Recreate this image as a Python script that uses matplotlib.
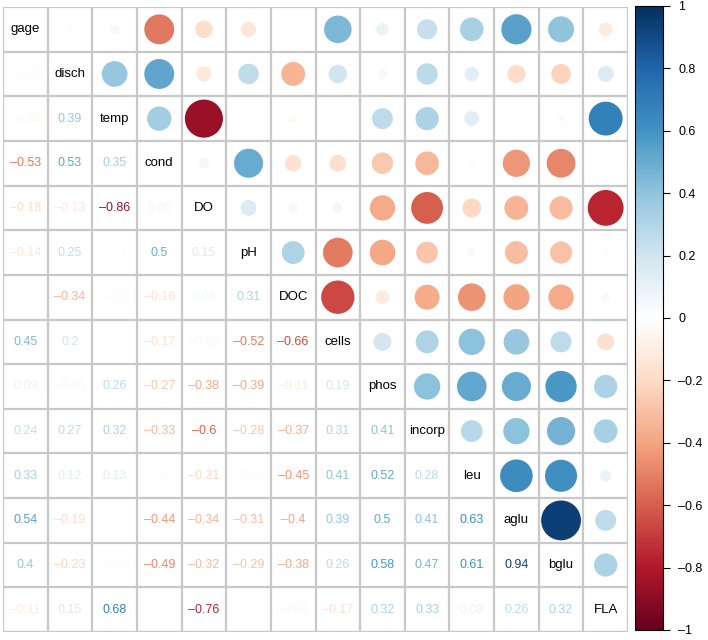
import numpy as np
import matplotlib
matplotlib.use("Agg")
import matplotlib.pyplot as plt
from matplotlib.colors import LinearSegmentedColormap, Normalize
from matplotlib.patches import Circle
from matplotlib.colorbar import ColorbarBase

plt.rcParams['font.family'] = ['Liberation Sans', 'DejaVu Sans']

# variable names (diagonal labels)
names = ["gage", "disch", "temp", "cond", "DO", "pH", "DOC", "cells",
         "phos", "incorp", "leu", "aglu", "bglu", "FLA"]

# lower-triangle correlations, row by row (row i has i values)
lower = [
    [],
    [-0.02],
    [-0.05, 0.39],
    [-0.53, 0.53, 0.35],
    [-0.18, -0.13, -0.86, 0.06],
    [-0.14, 0.25, 0.01, 0.5, 0.15],
    [-0.01, -0.34, -0.03, -0.16, 0.05, 0.31],
    [0.45, 0.2, -0.01, -0.17, -0.06, -0.52, -0.66],
    [0.09, -0.05, 0.26, -0.27, -0.38, -0.39, -0.11, 0.19],
    [0.24, 0.27, 0.32, -0.33, -0.6, -0.28, -0.37, 0.31, 0.41],
    [0.33, 0.12, 0.13, -0.02, -0.21, -0.04, -0.45, 0.41, 0.52, 0.28],
    [0.54, -0.19, -0.01, -0.44, -0.34, -0.31, -0.4, 0.39, 0.5, 0.41, 0.63],
    [0.4, -0.23, -0.03, -0.49, -0.32, -0.29, -0.38, 0.26, 0.58, 0.47, 0.61, 0.94],
    [-0.11, 0.15, 0.68, 0.0, -0.76, -0.02, -0.04, -0.17, 0.32, 0.33, 0.08, 0.26, 0.32],
]

n = len(names)
corr = np.eye(n)
for i, row in enumerate(lower):
    for j, v in enumerate(row):
        corr[i, j] = v
        corr[j, i] = v

cmap = LinearSegmentedColormap.from_list("corr", [
    "#67001F", "#B2182B", "#D6604D", "#F4A582", "#FDDBC7", "#FFFFFF",
    "#D1E5F0", "#92C5DE", "#4393C3", "#2166AC", "#053061"])
norm = Normalize(-1, 1)

def fmt(v):
    s = ("%.2f" % v).rstrip("0").rstrip(".")
    if s in ("-0", ""):
        s = "0"
    return s.replace("-", "\u2013")

fig = plt.figure(figsize=(7.08, 6.4), dpi=100)
ax = fig.add_axes([3 / 708, 8 / 640, 625 / 708, 625 / 640])
ax.set_xlim(0, n)
ax.set_ylim(n, 0)
ax.set_axis_off()

for i in range(n):
    for j in range(n):
        v = corr[i, j]
        if i == j:
            ax.text(j + 0.5, i + 0.5, names[i], ha="center", va="center",
                    fontsize=9.5, color="black")
        elif j < i:
            ax.text(j + 0.5, i + 0.5, fmt(v), ha="center", va="center",
                    fontsize=9, color=cmap(norm(v)))
        else:
            r = 0.46 * np.sqrt(abs(v))
            ax.add_patch(Circle((j + 0.5, i + 0.5), r, facecolor=cmap(norm(v)),
                                edgecolor="none"))

ax.hlines(np.arange(n + 1), 0, n, color="#C8C8C8", lw=1.6, zorder=3)
ax.vlines(np.arange(n + 1), 0, n, color="#C8C8C8", lw=1.6, zorder=3)

cax = fig.add_axes([635 / 708, 10 / 640, 28 / 708, 624 / 640])
cb = ColorbarBase(cax, cmap=cmap, norm=norm, orientation="vertical")
ticks = np.round(np.arange(-1, 1.01, 0.2), 1)
cb.set_ticks(ticks)
cb.set_ticklabels([fmt(t) if abs(t) > 1e-9 else "0" for t in ticks])
cax.tick_params(labelsize=9, length=5, width=0.8, pad=6)
cb.outline.set_linewidth(0.8)

fig.savefig("out.png", dpi=100)
